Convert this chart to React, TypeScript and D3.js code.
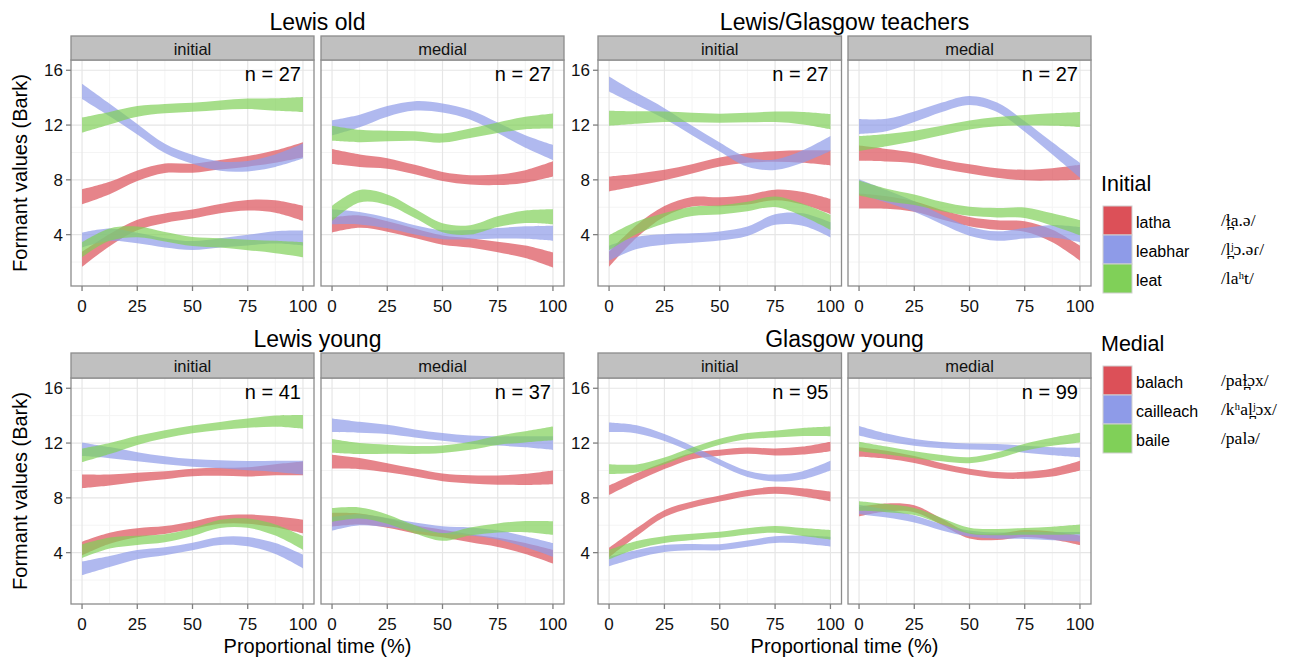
import React from "react";
import * as d3 from "d3";

// ---------- data ----------
const times = [0, 12.5, 25, 37.5, 50, 62.5, 75, 87.5, 100];
const xTicks = [0, 25, 50, 75, 100];
const yTicks = [4, 8, 12, 16];
const yMinorTicks = [2, 6, 10, 14];
const xMinorTicks = [12.5, 37.5, 62.5, 87.5];

const groupTitles = ["Lewis old", "Lewis/Glasgow teachers", "Lewis young", "Glasgow young"];
const positions = ["initial", "medial"];
const counts = [[27, 27], [27, 27], [41, 37], [95, 99]];

const initialWords = ["latha", "leabhar", "leat"];
const initialIPA = ["/ɫ̪a.ə/", "/l̪ʲɔ.əɾ/", "/laʰt/"];
const medialWords = ["balach", "cailleach", "baile"];
const medialIPA = ["/paɫ̪ɔx/", "/kʰal̪ʲɔx/", "/palə/"];

// rows: [word0 F1, word0 F2, word1 F1, word1 F2, word2 F1, word2 F2]
const lewisOldInitial = [
  [2.2, 3.6, 4.7, 5.2, 5.5, 5.9, 6.15, 6.05, 5.55],
  [6.76, 7.4, 8.3, 8.85, 8.85, 9.1, 9.35, 9.7, 10.2],
  [3.6, 4.0, 3.75, 3.4, 3.2, 3.4, 3.6, 3.8, 3.75],
  [14.46, 13.1, 11.7, 10.3, 9.5, 9.0, 9.0, 9.4, 10.1],
  [2.9, 4.0, 4.2, 3.85, 3.5, 3.4, 3.25, 3.1, 2.9],
  [12.0, 12.5, 13.0, 13.2, 13.3, 13.45, 13.55, 13.5, 13.5],
];
const lewisOldMedial = [
  [4.7, 4.95, 4.6, 4.1, 3.6, 3.4, 3.1, 2.75, 2.15],
  [9.7, 9.4, 9.2, 8.75, 8.25, 8.0, 8.0, 8.25, 8.8],
  [5.3, 5.2, 4.85, 4.35, 4.0, 4.0, 4.1, 4.15, 4.1],
  [11.8, 12.3, 13.0, 13.4, 13.25, 12.75, 11.8, 10.8, 10.0],
  [5.55, 6.8, 6.55, 5.55, 4.5, 4.35, 4.95, 5.3, 5.3],
  [11.4, 11.2, 11.2, 11.2, 11.05, 11.4, 11.8, 12.15, 12.3],
];
const teachersInitial = [
  [2.2, 4.25, 5.7, 6.4, 6.4, 6.55, 6.9, 6.65, 6.05],
  [7.7, 8.0, 8.35, 8.8, 9.3, 9.6, 9.7, 9.7, 9.6],
  [2.65, 3.4, 3.65, 3.75, 3.9, 4.25, 5.1, 5.1, 4.35],
  [15.0, 13.9, 12.85, 11.6, 10.4, 9.3, 9.1, 9.7, 10.65],
  [3.4, 4.5, 5.2, 5.7, 5.8, 6.05, 6.4, 5.8, 4.9],
  [12.5, 12.55, 12.6, 12.55, 12.5, 12.55, 12.6, 12.5, 12.25],
];
const teachersMedial = [
  [6.45, 6.35, 6.05, 5.45, 4.95, 4.7, 4.6, 3.9, 2.65],
  [9.95, 9.8, 9.6, 9.15, 8.8, 8.5, 8.35, 8.4, 8.55],
  [7.5, 6.8, 6.05, 5.1, 4.25, 3.9, 4.1, 4.25, 4.0],
  [11.9, 12.0, 12.6, 13.3, 13.8, 13.3, 11.9, 10.3, 8.7],
  [7.4, 6.9, 6.55, 6.05, 5.7, 5.6, 5.6, 5.1, 4.5],
  [10.65, 10.9, 11.2, 11.6, 12.0, 12.25, 12.35, 12.4, 12.4],
];
const lewisYoungInitial = [
  [4.3, 5.05, 5.45, 5.65, 6.0, 6.4, 6.45, 6.25, 5.9],
  [9.2, 9.3, 9.5, 9.65, 9.85, 9.9, 9.9, 10.05, 10.15],
  [2.85, 3.35, 3.85, 4.1, 4.45, 4.85, 4.8, 4.3, 3.35],
  [11.55, 11.3, 11.0, 10.75, 10.55, 10.45, 10.35, 10.3, 10.2],
  [4.1, 4.7, 4.9, 5.05, 5.5, 6.1, 6.15, 5.65, 4.7],
  [11.1, 11.6, 12.2, 12.65, 13.0, 13.25, 13.45, 13.6, 13.55],
];
const lewisYoungMedial = [
  [6.4, 6.45, 6.15, 5.7, 5.4, 5.05, 4.75, 4.3, 3.7],
  [10.65, 10.5, 10.2, 9.85, 9.5, 9.35, 9.3, 9.35, 9.5],
  [6.1, 6.4, 6.2, 5.9, 5.65, 5.55, 5.3, 4.8, 4.2],
  [13.3, 13.15, 13.0, 12.7, 12.45, 12.25, 12.15, 12.1, 12.0],
  [6.75, 6.9, 6.45, 5.7, 5.15, 5.55, 5.8, 5.9, 5.8],
  [11.8, 11.6, 11.55, 11.5, 11.55, 11.8, 12.2, 12.45, 12.7],
];
const glasgowYoungInitial = [
  [4.0, 5.5, 6.85, 7.5, 7.95, 8.35, 8.55, 8.4, 8.1],
  [8.55, 9.5, 10.35, 11.05, 11.3, 11.45, 11.35, 11.45, 11.75],
  [3.35, 3.9, 4.3, 4.4, 4.4, 4.65, 4.95, 4.95, 4.8],
  [13.15, 13.0, 12.4, 11.55, 10.6, 9.75, 9.45, 9.65, 10.35],
  [3.85, 4.55, 4.95, 5.15, 5.3, 5.55, 5.7, 5.5, 5.3],
  [10.1, 10.15, 10.7, 11.45, 12.1, 12.5, 12.65, 12.8, 12.85],
];
const glasgowYoungMedial = [
  [7.0, 7.3, 7.2, 6.25, 5.25, 5.15, 5.4, 5.25, 4.9],
  [11.35, 11.15, 10.8, 10.3, 9.9, 9.65, 9.65, 9.85, 10.35],
  [7.15, 6.85, 6.45, 5.85, 5.4, 5.25, 5.25, 5.2, 5.15],
  [12.9, 12.4, 12.05, 11.85, 11.75, 11.7, 11.55, 11.4, 11.3],
  [7.4, 7.25, 7.0, 6.3, 5.6, 5.5, 5.55, 5.6, 5.7],
  [11.75, 11.45, 11.15, 10.9, 10.75, 11.1, 11.7, 12.1, 12.4],
];

const panelData = [
  [lewisOldInitial, lewisOldMedial],
  [teachersInitial, teachersMedial],
  [lewisYoungInitial, lewisYoungMedial],
  [glasgowYoungInitial, glasgowYoungMedial],
];
// confidence band half-width [middle, ends] (Bark)
const ciHalfWidth = [
  [0.33, 0.55],
  [0.33, 0.55],
  [0.28, 0.5],
  [0.22, 0.35],
];

// ---------- style / layout ----------
const W = 1297;
const H = 662;
const colors = ["#DC5058", "#8E9BE8", "#80D058"];
const FONT = "'Liberation Sans', Arial, Helvetica, sans-serif";
const SERIF = "'Liberation Serif', 'DejaVu Serif', 'Times New Roman', serif";

const colX = [
  [[71, 314], [321, 564]],
  [[598, 841.5], [848, 1091]],
];
const rowY = [
  { strip: 36, top: 60, bottom: 286 },
  { strip: 353, top: 378, bottom: 604 },
];

function Panel({ g, p }: { g: number; p: number }) {
  const col = g % 2;
  const row = Math.floor(g / 2);
  const [x0, x1] = colX[col][p];
  const r = rowY[row];
  const x = d3.scaleLinear().domain([-5, 105]).range([x0, x1]);
  const y = d3.scaleLinear().domain([0.25, 16.75]).range([r.bottom, r.top]);
  const [hwMid, hwEnd] = ciHalfWidth[g];
  const hw = (i: number) => {
    const s = ((times[i] - 50) / 50) ** 2;
    return hwMid + (hwEnd - hwMid) * s;
  };
  const area = d3
    .area<number>()
    .x((_, i) => x(times[i]))
    .y0((v, i) => y(v - hw(i)))
    .y1((v, i) => y(v + hw(i)))
    .curve(d3.curveCatmullRom.alpha(0.5));
  const rows = panelData[g][p];
  const clipId = `clip-${g}-${p}`;
  return (
    <g>
      <defs>
        <clipPath id={clipId}>
          <rect x={x0} y={r.top} width={x1 - x0} height={r.bottom - r.top} />
        </clipPath>
      </defs>
      <rect x={x0} y={r.top} width={x1 - x0} height={r.bottom - r.top} fill="#fff" />
      {yMinorTicks.map((t) => (
        <line key={"ym" + t} x1={x0} x2={x1} y1={y(t)} y2={y(t)} stroke="#F4F4F4" strokeWidth={1} />
      ))}
      {xMinorTicks.map((t) => (
        <line key={"xm" + t} x1={x(t)} x2={x(t)} y1={r.top} y2={r.bottom} stroke="#F4F4F4" strokeWidth={1} />
      ))}
      {yTicks.map((t) => (
        <line key={"y" + t} x1={x0} x2={x1} y1={y(t)} y2={y(t)} stroke="#E6E6E6" strokeWidth={1.2} />
      ))}
      {xTicks.map((t) => (
        <line key={"x" + t} x1={x(t)} x2={x(t)} y1={r.top} y2={r.bottom} stroke="#E6E6E6" strokeWidth={1.2} />
      ))}
      <g clipPath={`url(#${clipId})`}>
        {rows.map((vals, k) => (
          <path key={k} d={area(vals) || ""} fill={colors[Math.floor(k / 2)]} fillOpacity={0.7} />
        ))}
      </g>
      <text
        x={x(100) - 2}
        y={y(16) + 10.5}
        textAnchor="end"
        fontFamily={FONT}
        fontSize={20}
        fill="#000"
      >
        {`n = ${counts[g][p]}`}
      </text>
      <rect x={x0} y={r.top} width={x1 - x0} height={r.bottom - r.top} fill="none" stroke="#8C8C8C" strokeWidth={1.3} />
      {/* strip */}
      <rect x={x0} y={r.strip} width={x1 - x0} height={r.top - r.strip} fill="#C0C0C0" stroke="#8C8C8C" strokeWidth={1.3} />
      <text
        x={(x0 + x1) / 2}
        y={(r.strip + r.top) / 2 + 6.5}
        textAnchor="middle"
        fontFamily={FONT}
        fontSize={16.5}
        fill="#111"
      >
        {positions[p]}
      </text>
      {/* x axis */}
      {xTicks.map((t) => (
        <g key={"xt" + t}>
          <line x1={x(t)} x2={x(t)} y1={r.bottom} y2={r.bottom + 5} stroke="#7F7F7F" strokeWidth={1.3} />
          <text x={x(t)} y={r.bottom + 25.5} textAnchor="middle" fontFamily={FONT} fontSize={17} fill="#111">
            {t}
          </text>
        </g>
      ))}
      {/* y axis */}
      {p === 0 &&
        yTicks.map((t) => (
          <g key={"yt" + t}>
            <line x1={x0 - 5} x2={x0} y1={y(t)} y2={y(t)} stroke="#7F7F7F" strokeWidth={1.3} />
            <text x={x0 - 8} y={y(t) + 6} textAnchor="end" fontFamily={FONT} fontSize={17} fill="#111">
              {t}
            </text>
          </g>
        ))}
    </g>
  );
}

function Legend({ title, words, ipa, top }: { title: string; words: string[]; ipa: string[]; top: number }) {
  const keyX = 1103;
  const keySize = 29;
  return (
    <g>
      <text x={1101} y={top} fontFamily={FONT} fontSize={21.5} fill="#000">
        {title}
      </text>
      {words.map((w, i) => {
        const ky = top + 15 + i * keySize;
        return (
          <g key={w}>
            <rect x={keyX} y={ky} width={keySize} height={keySize} fill={colors[i]} stroke="#CFCFCF" strokeWidth={1} />
            <text x={keyX + keySize + 4} y={ky + keySize / 2 + 7} fontFamily={FONT} fontSize={16} fill="#000">
              {w}
            </text>
            <text x={1221} y={ky + keySize / 2 + 5} fontFamily={SERIF} fontSize={17.5} fill="#000">
              {ipa[i]}
            </text>
          </g>
        );
      })}
    </g>
  );
}

export default function App() {
  return (
    <svg
      width={W}
      height={H}
      viewBox={`0 0 ${W} ${H}`}
      style={{ position: "absolute", left: 0, top: 0, display: "block", background: "#fff" }}
    >
      <rect x={0} y={0} width={W} height={H} fill="#fff" />
      {groupTitles.map((title, g) => {
        const col = g % 2;
        const row = Math.floor(g / 2);
        const cx = (colX[col][0][0] + colX[col][1][1]) / 2;
        const r = rowY[row];
        return (
          <g key={title}>
            <text x={cx} y={r.strip - 6} textAnchor="middle" fontFamily={FONT} fontSize={23} fill="#000">
              {title}
            </text>
            <Panel g={g} p={0} />
            <Panel g={g} p={1} />
            {col === 0 && (
              <text
                transform={`translate(27, ${(r.top + r.bottom) / 2}) rotate(-90)`}
                textAnchor="middle"
                fontFamily={FONT}
                fontSize={20}
                fill="#000"
              >
                Formant values (Bark)
              </text>
            )}
            {row === 1 && (
              <text x={cx} y={r.bottom + 49} textAnchor="middle" fontFamily={FONT} fontSize={20} fill="#000">
                Proportional time (%)
              </text>
            )}
          </g>
        );
      })}
      <Legend title="Initial" words={initialWords} ipa={initialIPA} top={191} />
      <Legend title="Medial" words={medialWords} ipa={medialIPA} top={351} />
    </svg>
  );
}
